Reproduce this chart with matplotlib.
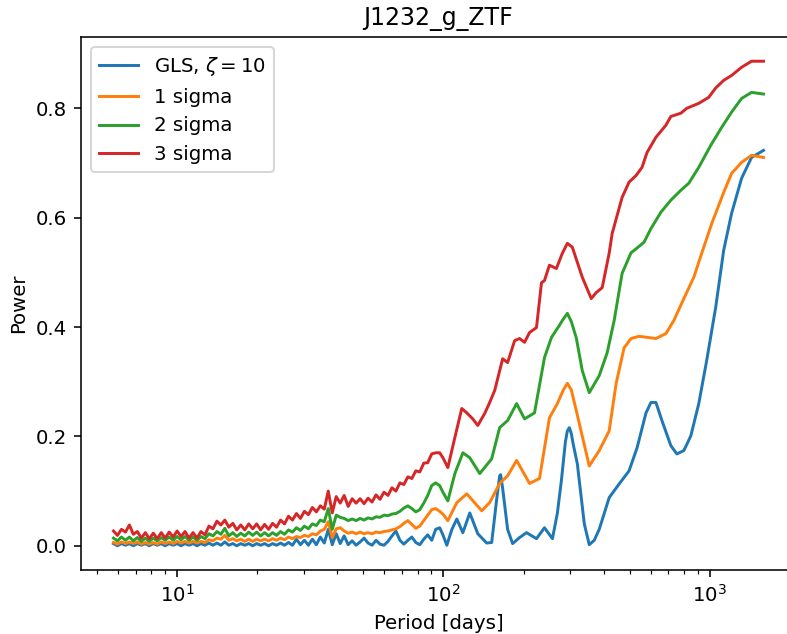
import matplotlib
matplotlib.use("Agg")
import matplotlib.pyplot as plt

# short-period part (dense, noisy), shared period grid
period_short = [5.77, 5.97, 6.18, 6.40, 6.62, 6.85, 7.09, 7.34, 7.60, 7.86,
                8.14, 8.42, 8.72, 9.02, 9.34, 9.67, 10.0, 10.35, 10.71, 11.09,
                11.48, 11.88, 12.29, 12.72, 13.17, 13.63, 14.11, 14.60, 15.11, 15.64,
                16.19, 16.75, 17.34, 17.95, 18.58, 19.23, 19.90, 20.59, 21.31, 22.06,
                22.83, 23.63, 24.46, 25.31, 26.20, 27.12, 28.06, 29.05, 30.06, 31.11,
                32.20, 33.33, 34.50, 35.70, 36.95, 38.25, 39.58, 40.97, 42.40, 43.89,
                45.42, 47.01, 48.66, 50.36, 52.12, 53.95, 55.84, 57.79, 59.81, 61.91,
                64.07, 66.32, 68.64, 71.04, 73.53, 76.10, 78.76, 81.52, 84.37, 87.32,
                90.38, 93.54, 96.82]

gls_short = [0.004, 0.000, 0.004, 0.001, 0.004, 0.000, 0.004, 0.001, 0.004, 0.000,
             0.004, 0.001, 0.004, 0.000, 0.004, 0.001, 0.004, 0.000, 0.004, 0.001,
             0.004, 0.000, 0.004, 0.001, 0.005, 0.001, 0.005, 0.001, 0.007, 0.001,
             0.004, 0.000, 0.004, 0.001, 0.004, 0.000, 0.004, 0.001, 0.004, 0.000,
             0.004, 0.001, 0.005, 0.001, 0.006, 0.001, 0.012, 0.002, 0.010, 0.001,
             0.012, 0.002, 0.016, 0.005, 0.030, 0.002, 0.022, 0.004, 0.018, 0.002,
             0.009, 0.001, 0.007, 0.014, 0.005, 0.001, 0.010, 0.003, 0.001, 0.008,
             0.018, 0.027, 0.010, 0.003, 0.010, 0.016, 0.006, 0.002, 0.012, 0.020,
             0.010, 0.030, 0.033]

sig1_short = [0.006, 0.003, 0.007, 0.004, 0.007, 0.004, 0.007, 0.003, 0.006, 0.003,
              0.006, 0.003, 0.007, 0.004, 0.007, 0.004, 0.008, 0.005, 0.008, 0.005,
              0.008, 0.005, 0.008, 0.006, 0.011, 0.009, 0.014, 0.012, 0.019, 0.010,
              0.013, 0.009, 0.012, 0.008, 0.012, 0.008, 0.012, 0.009, 0.012, 0.009,
              0.013, 0.010, 0.014, 0.011, 0.016, 0.013, 0.017, 0.015, 0.019, 0.017,
              0.022, 0.020, 0.027, 0.030, 0.044, 0.015, 0.031, 0.033, 0.027, 0.023,
              0.025, 0.022, 0.025, 0.022, 0.024, 0.022, 0.025, 0.024, 0.026, 0.027,
              0.029, 0.031, 0.035, 0.041, 0.046, 0.039, 0.032, 0.036, 0.046, 0.056,
              0.066, 0.068, 0.063]

sig2_short = [0.014, 0.009, 0.016, 0.010, 0.016, 0.009, 0.015, 0.008, 0.014, 0.008,
              0.014, 0.009, 0.015, 0.010, 0.016, 0.010, 0.017, 0.011, 0.017, 0.010,
              0.016, 0.010, 0.017, 0.013, 0.022, 0.018, 0.026, 0.021, 0.032, 0.018,
              0.024, 0.017, 0.023, 0.018, 0.025, 0.019, 0.025, 0.018, 0.024, 0.018,
              0.024, 0.019, 0.026, 0.021, 0.029, 0.025, 0.033, 0.028, 0.036, 0.031,
              0.040, 0.037, 0.047, 0.044, 0.068, 0.030, 0.056, 0.052, 0.050, 0.046,
              0.049, 0.046, 0.050, 0.047, 0.051, 0.049, 0.053, 0.052, 0.056, 0.055,
              0.058, 0.059, 0.063, 0.069, 0.073, 0.068, 0.062, 0.066, 0.078, 0.092,
              0.110, 0.115, 0.110]

sig3_short = [0.027, 0.019, 0.030, 0.025, 0.038, 0.021, 0.026, 0.014, 0.024, 0.013,
              0.023, 0.013, 0.024, 0.014, 0.025, 0.016, 0.027, 0.017, 0.026, 0.014,
              0.024, 0.014, 0.026, 0.020, 0.036, 0.031, 0.045, 0.038, 0.047, 0.034,
              0.041, 0.029, 0.038, 0.029, 0.040, 0.031, 0.040, 0.029, 0.039, 0.030,
              0.041, 0.034, 0.047, 0.040, 0.054, 0.047, 0.059, 0.050, 0.063, 0.057,
              0.070, 0.062, 0.073, 0.067, 0.100, 0.060, 0.090, 0.078, 0.092, 0.072,
              0.086, 0.078, 0.086, 0.077, 0.087, 0.080, 0.093, 0.085, 0.098, 0.092,
              0.106, 0.100, 0.115, 0.112, 0.126, 0.123, 0.137, 0.135, 0.151, 0.152,
              0.168, 0.170, 0.170]

# long-period part, each curve on its own grid
gls_p = [99.56, 103.0, 107.6, 112.3, 118.3, 125.6, 134.6, 145.4, 151.8, 158.5,
         162.6, 164.0, 166.9, 174.2, 181.9, 193.2, 205.2, 223.6, 239.6, 256.7,
         267.9, 277.3, 287.1, 292.0, 297.1, 302.2, 307.4, 318.3, 338.1, 352.9,
         368.4, 384.6, 419.2, 456.9, 497.9, 533.4, 576.4, 601.6, 628.1, 661.4,
         714.7, 752.5, 799.4, 849.2, 909.7, 974.3, 1052.9, 1128.0, 1208.3, 1317.3,
         1435.5, 1591.9]
gls_v = [0.020, 0.001, 0.030, 0.049, 0.024, 0.060, 0.022, 0.005, 0.006, 0.085,
         0.128, 0.130, 0.105, 0.030, 0.004, 0.015, 0.024, 0.013, 0.033, 0.013,
         0.060, 0.119, 0.190, 0.210, 0.216, 0.205, 0.185, 0.150, 0.040, 0.002,
         0.010, 0.030, 0.088, 0.113, 0.137, 0.179, 0.243, 0.262, 0.262, 0.229,
         0.183, 0.168, 0.174, 0.201, 0.260, 0.339, 0.436, 0.540, 0.608, 0.672,
         0.710, 0.723]

sig1_p = [99.56, 103.9, 112.3, 122.4, 139.3, 149.2, 162.6, 174.2, 188.3, 210.6,
          229.5, 250.1, 267.9, 282.0, 292.0, 302.2, 315.5, 352.9, 384.6, 419.2,
          445.3, 476.9, 506.6, 542.7, 628.1, 684.6, 733.4, 799.4, 871.4, 933.3,
          1017.2, 1128.0, 1208.3, 1317.3, 1435.5, 1591.9]
sig1_v = [0.058, 0.046, 0.079, 0.095, 0.064, 0.079, 0.114, 0.128, 0.156, 0.114,
          0.123, 0.234, 0.260, 0.285, 0.297, 0.285, 0.247, 0.146, 0.174, 0.210,
          0.297, 0.362, 0.379, 0.383, 0.379, 0.388, 0.412, 0.452, 0.491, 0.535,
          0.589, 0.646, 0.681, 0.701, 0.714, 0.710]

sig2_p = [99.56, 103.9, 110.4, 118.3, 125.6, 136.9, 151.8, 162.6, 174.2, 188.3,
          201.7, 219.8, 239.6, 254.5, 272.5, 279.7, 292.0, 302.2, 315.5, 332.3,
          352.9, 384.6, 412.0, 437.7, 468.8, 506.6, 519.8, 566.6, 601.6, 655.7,
          714.7, 779.0, 834.6, 909.7, 1008.4, 1108.6, 1208.3, 1317.3, 1435.5, 1591.9]
sig2_v = [0.098, 0.082, 0.132, 0.170, 0.161, 0.132, 0.159, 0.216, 0.229, 0.260,
          0.232, 0.243, 0.344, 0.381, 0.403, 0.412, 0.425, 0.410, 0.380, 0.320,
          0.280, 0.311, 0.353, 0.412, 0.498, 0.536, 0.540, 0.555, 0.580, 0.610,
          0.632, 0.650, 0.663, 0.692, 0.732, 0.765, 0.793, 0.818, 0.829, 0.826]

sig3_p = [99.56, 103.9, 110.4, 117.2, 122.4, 128.9, 134.6, 142.9, 149.2, 155.8,
          166.9, 174.2, 185.1, 193.2, 201.7, 210.6, 223.6, 233.5, 239.6, 250.1,
          265.6, 279.7, 292.0, 304.8, 332.3, 359.0, 374.8, 394.7, 419.2, 430.2,
          468.8, 497.9, 528.9, 556.9, 581.4, 628.1, 684.6, 714.7, 779.0, 820.3,
          909.7, 991.3, 1052.9, 1128.0, 1208.3, 1317.3, 1435.5, 1591.9]
sig3_v = [0.161, 0.143, 0.198, 0.251, 0.243, 0.232, 0.220, 0.242, 0.262, 0.284,
          0.342, 0.335, 0.375, 0.379, 0.372, 0.390, 0.399, 0.481, 0.485, 0.513,
          0.507, 0.535, 0.553, 0.546, 0.491, 0.452, 0.463, 0.472, 0.535, 0.571,
          0.637, 0.665, 0.677, 0.692, 0.719, 0.747, 0.769, 0.785, 0.791, 0.800,
          0.809, 0.820, 0.837, 0.851, 0.860, 0.875, 0.886, 0.886]

dpi = 142
fig = plt.figure(figsize=(787 / dpi, 634 / dpi), dpi=dpi)
# axes run a little past the right edge, as in the cropped original
ax = fig.add_axes([81 / 787, 1 - 570 / 634, (796 - 81) / 787, (570 - 37) / 634])

ax.plot(period_short + gls_p, gls_short + gls_v, label=r"GLS, $\zeta=10$")
ax.plot(period_short + sig1_p, sig1_short + sig1_v, label="1 sigma")
ax.plot(period_short + sig2_p, sig2_short + sig2_v, label="2 sigma")
ax.plot(period_short + sig3_p, sig3_short + sig3_v, label="3 sigma")

ax.set_xscale("log")
ax.set_xlabel("Period [days]")
ax.set_ylabel("Power")
ax.set_title("J1232_g_ZTF")
ax.legend(loc="upper left")
ax.spines["right"].set_visible(False)

fig.savefig("out.png", dpi=dpi)
